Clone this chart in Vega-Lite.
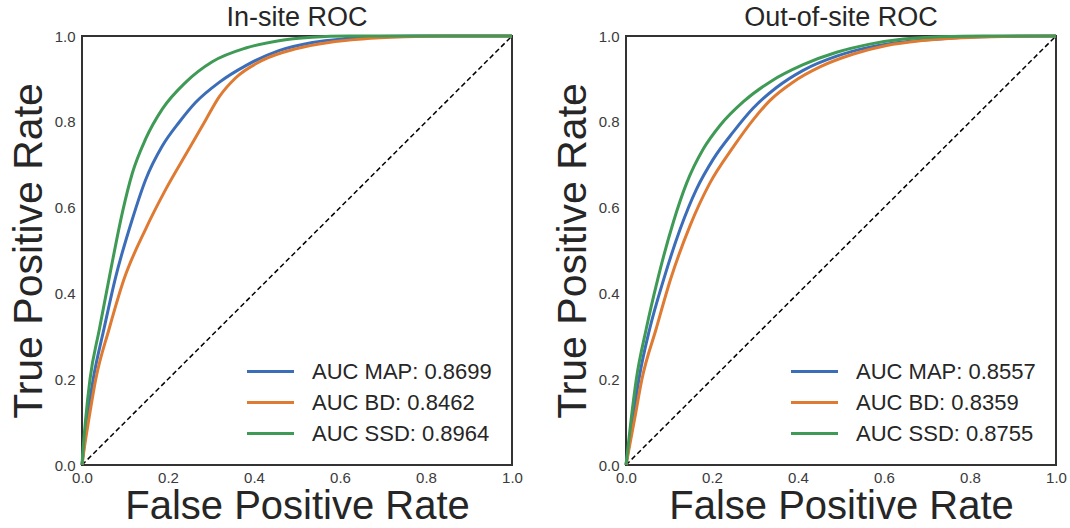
{
  "$schema": "https://vega.github.io/schema/vega-lite/v6.json",
  "background": "white",
  "padding": {"left": 7, "top": 3, "right": 0, "bottom": 0},
  "spacing": 27,
  "config": {
    "font": "Liberation Sans",
    "view": {"stroke": "#333333", "strokeWidth": 2},
    "axis": {
      "grid": false, "ticks": false, "domain": false, "labelFlush": false,
      "labelFont": "Liberation Sans", "labelFontSize": 15, "labelColor": "#3a3a3a",
      "titleFont": "Liberation Sans", "titleFontSize": 41, "titleFontWeight": "normal", "titleColor": "#262626"
    },
    "axisX": {"labelPadding": 5, "titlePadding": 1, "titleFontSize": 40},
    "axisY": {"labelPadding": 7, "titlePadding": 4},
    "title": {"font": "Liberation Sans", "fontSize": 27, "fontWeight": "normal", "color": "#262626", "offset": -3, "frame": "group"},
    "legend": {
      "orient": "bottom-right", "offset": 20, "padding": 0,
      "symbolType": "M-1.5,0L1.5,0", "symbolSize": 982, "symbolStrokeWidth": 3,
      "labelFont": "Liberation Sans", "labelFontSize": 22, "labelColor": "#262626",
      "labelOffset": 24, "rowPadding": 2, "labelLimit": 400
    }
  },
  "datasets": {
    "insite": [
      {"label": "AUC MAP: 0.8699", "fpr": 0, "tpr": 0},
      {"label": "AUC MAP: 0.8699", "fpr": 0.012, "tpr": 0.107},
      {"label": "AUC MAP: 0.8699", "fpr": 0.026, "tpr": 0.2},
      {"label": "AUC MAP: 0.8699", "fpr": 0.051, "tpr": 0.317},
      {"label": "AUC MAP: 0.8699", "fpr": 0.078, "tpr": 0.437},
      {"label": "AUC MAP: 0.8699", "fpr": 0.117, "tpr": 0.573},
      {"label": "AUC MAP: 0.8699", "fpr": 0.148, "tpr": 0.665},
      {"label": "AUC MAP: 0.8699", "fpr": 0.187, "tpr": 0.744},
      {"label": "AUC MAP: 0.8699", "fpr": 0.226, "tpr": 0.799},
      {"label": "AUC MAP: 0.8699", "fpr": 0.264, "tpr": 0.845},
      {"label": "AUC MAP: 0.8699", "fpr": 0.319, "tpr": 0.892},
      {"label": "AUC MAP: 0.8699", "fpr": 0.381, "tpr": 0.931},
      {"label": "AUC MAP: 0.8699", "fpr": 0.458, "tpr": 0.966},
      {"label": "AUC MAP: 0.8699", "fpr": 0.536, "tpr": 0.985},
      {"label": "AUC MAP: 0.8699", "fpr": 0.613, "tpr": 0.994},
      {"label": "AUC MAP: 0.8699", "fpr": 0.69, "tpr": 0.999},
      {"label": "AUC MAP: 0.8699", "fpr": 0.8, "tpr": 1.0},
      {"label": "AUC MAP: 0.8699", "fpr": 1.0, "tpr": 1.0},
      {"label": "AUC BD: 0.8462", "fpr": 0, "tpr": 0},
      {"label": "AUC BD: 0.8462", "fpr": 0.005, "tpr": 0.037},
      {"label": "AUC BD: 0.8462", "fpr": 0.016, "tpr": 0.107},
      {"label": "AUC BD: 0.8462", "fpr": 0.032, "tpr": 0.2},
      {"label": "AUC BD: 0.8462", "fpr": 0.063, "tpr": 0.317},
      {"label": "AUC BD: 0.8462", "fpr": 0.098, "tpr": 0.434},
      {"label": "AUC BD: 0.8462", "fpr": 0.148, "tpr": 0.55},
      {"label": "AUC BD: 0.8462", "fpr": 0.195, "tpr": 0.643},
      {"label": "AUC BD: 0.8462", "fpr": 0.249, "tpr": 0.737},
      {"label": "AUC BD: 0.8462", "fpr": 0.288, "tpr": 0.805},
      {"label": "AUC BD: 0.8462", "fpr": 0.319, "tpr": 0.858},
      {"label": "AUC BD: 0.8462", "fpr": 0.357, "tpr": 0.902},
      {"label": "AUC BD: 0.8462", "fpr": 0.419, "tpr": 0.943},
      {"label": "AUC BD: 0.8462", "fpr": 0.497, "tpr": 0.97},
      {"label": "AUC BD: 0.8462", "fpr": 0.574, "tpr": 0.985},
      {"label": "AUC BD: 0.8462", "fpr": 0.652, "tpr": 0.993},
      {"label": "AUC BD: 0.8462", "fpr": 0.75, "tpr": 0.998},
      {"label": "AUC BD: 0.8462", "fpr": 0.85, "tpr": 1.0},
      {"label": "AUC BD: 0.8462", "fpr": 1.0, "tpr": 1.0},
      {"label": "AUC SSD: 0.8964", "fpr": 0, "tpr": 0},
      {"label": "AUC SSD: 0.8964", "fpr": 0.002, "tpr": 0.03},
      {"label": "AUC SSD: 0.8964", "fpr": 0.0085, "tpr": 0.107},
      {"label": "AUC SSD: 0.8964", "fpr": 0.0186, "tpr": 0.2},
      {"label": "AUC SSD: 0.8964", "fpr": 0.0405, "tpr": 0.317},
      {"label": "AUC SSD: 0.8964", "fpr": 0.065, "tpr": 0.445},
      {"label": "AUC SSD: 0.8964", "fpr": 0.094, "tpr": 0.589},
      {"label": "AUC SSD: 0.8964", "fpr": 0.117, "tpr": 0.68},
      {"label": "AUC SSD: 0.8964", "fpr": 0.148, "tpr": 0.76},
      {"label": "AUC SSD: 0.8964", "fpr": 0.187, "tpr": 0.83},
      {"label": "AUC SSD: 0.8964", "fpr": 0.241, "tpr": 0.892},
      {"label": "AUC SSD: 0.8964", "fpr": 0.303, "tpr": 0.94},
      {"label": "AUC SSD: 0.8964", "fpr": 0.381, "tpr": 0.972},
      {"label": "AUC SSD: 0.8964", "fpr": 0.458, "tpr": 0.989},
      {"label": "AUC SSD: 0.8964", "fpr": 0.535, "tpr": 0.997},
      {"label": "AUC SSD: 0.8964", "fpr": 0.62, "tpr": 1.0},
      {"label": "AUC SSD: 0.8964", "fpr": 1.0, "tpr": 1.0}
    ],
    "outsite": [
      {"label": "AUC MAP: 0.8557", "fpr": 0, "tpr": 0},
      {"label": "AUC MAP: 0.8557", "fpr": 0.016, "tpr": 0.107},
      {"label": "AUC MAP: 0.8557", "fpr": 0.03, "tpr": 0.2},
      {"label": "AUC MAP: 0.8557", "fpr": 0.055, "tpr": 0.317},
      {"label": "AUC MAP: 0.8557", "fpr": 0.088, "tpr": 0.434},
      {"label": "AUC MAP: 0.8557", "fpr": 0.126, "tpr": 0.55},
      {"label": "AUC MAP: 0.8557", "fpr": 0.164, "tpr": 0.643},
      {"label": "AUC MAP: 0.8557", "fpr": 0.203, "tpr": 0.713},
      {"label": "AUC MAP: 0.8557", "fpr": 0.25, "tpr": 0.777},
      {"label": "AUC MAP: 0.8557", "fpr": 0.296, "tpr": 0.832},
      {"label": "AUC MAP: 0.8557", "fpr": 0.35, "tpr": 0.88},
      {"label": "AUC MAP: 0.8557", "fpr": 0.412, "tpr": 0.92},
      {"label": "AUC MAP: 0.8557", "fpr": 0.49, "tpr": 0.953},
      {"label": "AUC MAP: 0.8557", "fpr": 0.567, "tpr": 0.974},
      {"label": "AUC MAP: 0.8557", "fpr": 0.645, "tpr": 0.986},
      {"label": "AUC MAP: 0.8557", "fpr": 0.75, "tpr": 0.995},
      {"label": "AUC MAP: 0.8557", "fpr": 0.85, "tpr": 0.999},
      {"label": "AUC MAP: 0.8557", "fpr": 1.0, "tpr": 1.0},
      {"label": "AUC BD: 0.8359", "fpr": 0, "tpr": 0},
      {"label": "AUC BD: 0.8359", "fpr": 0.02, "tpr": 0.107},
      {"label": "AUC BD: 0.8359", "fpr": 0.037, "tpr": 0.2},
      {"label": "AUC BD: 0.8359", "fpr": 0.07, "tpr": 0.317},
      {"label": "AUC BD: 0.8359", "fpr": 0.104, "tpr": 0.434},
      {"label": "AUC BD: 0.8359", "fpr": 0.149, "tpr": 0.558},
      {"label": "AUC BD: 0.8359", "fpr": 0.195, "tpr": 0.657},
      {"label": "AUC BD: 0.8359", "fpr": 0.25, "tpr": 0.742},
      {"label": "AUC BD: 0.8359", "fpr": 0.296, "tpr": 0.805},
      {"label": "AUC BD: 0.8359", "fpr": 0.335, "tpr": 0.85},
      {"label": "AUC BD: 0.8359", "fpr": 0.389, "tpr": 0.893},
      {"label": "AUC BD: 0.8359", "fpr": 0.451, "tpr": 0.928},
      {"label": "AUC BD: 0.8359", "fpr": 0.529, "tpr": 0.958},
      {"label": "AUC BD: 0.8359", "fpr": 0.606, "tpr": 0.978},
      {"label": "AUC BD: 0.8359", "fpr": 0.684, "tpr": 0.989},
      {"label": "AUC BD: 0.8359", "fpr": 0.78, "tpr": 0.996},
      {"label": "AUC BD: 0.8359", "fpr": 0.88, "tpr": 0.999},
      {"label": "AUC BD: 0.8359", "fpr": 1.0, "tpr": 1.0},
      {"label": "AUC SSD: 0.8755", "fpr": 0, "tpr": 0},
      {"label": "AUC SSD: 0.8755", "fpr": 0.012, "tpr": 0.107},
      {"label": "AUC SSD: 0.8755", "fpr": 0.024, "tpr": 0.2},
      {"label": "AUC SSD: 0.8755", "fpr": 0.047, "tpr": 0.317},
      {"label": "AUC SSD: 0.8755", "fpr": 0.074, "tpr": 0.434},
      {"label": "AUC SSD: 0.8755", "fpr": 0.11, "tpr": 0.566},
      {"label": "AUC SSD: 0.8755", "fpr": 0.141, "tpr": 0.657},
      {"label": "AUC SSD: 0.8755", "fpr": 0.18, "tpr": 0.737},
      {"label": "AUC SSD: 0.8755", "fpr": 0.219, "tpr": 0.792},
      {"label": "AUC SSD: 0.8755", "fpr": 0.273, "tpr": 0.847},
      {"label": "AUC SSD: 0.8755", "fpr": 0.335, "tpr": 0.893},
      {"label": "AUC SSD: 0.8755", "fpr": 0.412, "tpr": 0.933},
      {"label": "AUC SSD: 0.8755", "fpr": 0.49, "tpr": 0.962},
      {"label": "AUC SSD: 0.8755", "fpr": 0.567, "tpr": 0.981},
      {"label": "AUC SSD: 0.8755", "fpr": 0.645, "tpr": 0.993},
      {"label": "AUC SSD: 0.8755", "fpr": 0.73, "tpr": 0.998},
      {"label": "AUC SSD: 0.8755", "fpr": 0.83, "tpr": 1.0},
      {"label": "AUC SSD: 0.8755", "fpr": 1.0, "tpr": 1.0}
    ],
    "diag": [
      {"fpr": 0, "tpr": 0},
      {"fpr": 1, "tpr": 1}
    ]
  },
  "resolve": {"scale": {"color": "independent"}, "legend": {"color": "independent"}},
  "hconcat": [
    {
      "width": 430,
      "height": 429,
      "title": {"text": "In-site ROC"},
      "layer": [
        {
          "data": {"name": "diag"},
          "mark": {"type": "line", "color": "black", "strokeWidth": 1.5, "strokeDash": [5, 3]},
          "encoding": {
            "x": {"field": "fpr", "type": "quantitative"},
            "y": {"field": "tpr", "type": "quantitative"}
          }
        },
        {
          "data": {"name": "insite"},
          "mark": {"type": "line", "strokeWidth": 3, "interpolate": "monotone"},
          "encoding": {
            "x": {"field": "fpr", "type": "quantitative", "scale": {"domain": [0, 1], "nice": false},
                  "axis": {"title": "False Positive Rate", "values": [0, 0.2, 0.4, 0.6, 0.8, 1], "format": ".1f"}},
            "y": {"field": "tpr", "type": "quantitative", "scale": {"domain": [0, 1], "nice": false},
                  "axis": {"title": "True Positive Rate", "values": [0, 0.2, 0.4, 0.6, 0.8, 1], "format": ".1f"}},
            "color": {"field": "label", "type": "nominal",
                      "scale": {"domain": ["AUC MAP: 0.8699", "AUC BD: 0.8462", "AUC SSD: 0.8964"], "range": ["#3C6DB8", "#DF7A33", "#3E9A55"]},
                      "legend": {"title": null}}
          }
        }
      ]
    },
    {
      "width": 430,
      "height": 429,
      "title": {"text": "Out-of-site ROC"},
      "layer": [
        {
          "data": {"name": "diag"},
          "mark": {"type": "line", "color": "black", "strokeWidth": 1.5, "strokeDash": [5, 3]},
          "encoding": {
            "x": {"field": "fpr", "type": "quantitative"},
            "y": {"field": "tpr", "type": "quantitative"}
          }
        },
        {
          "data": {"name": "outsite"},
          "mark": {"type": "line", "strokeWidth": 3, "interpolate": "monotone"},
          "encoding": {
            "x": {"field": "fpr", "type": "quantitative", "scale": {"domain": [0, 1], "nice": false},
                  "axis": {"title": "False Positive Rate", "values": [0, 0.2, 0.4, 0.6, 0.8, 1], "format": ".1f"}},
            "y": {"field": "tpr", "type": "quantitative", "scale": {"domain": [0, 1], "nice": false},
                  "axis": {"title": "True Positive Rate", "values": [0, 0.2, 0.4, 0.6, 0.8, 1], "format": ".1f"}},
            "color": {"field": "label", "type": "nominal",
                      "scale": {"domain": ["AUC MAP: 0.8557", "AUC BD: 0.8359", "AUC SSD: 0.8755"], "range": ["#3C6DB8", "#DF7A33", "#3E9A55"]},
                      "legend": {"title": null}}
          }
        }
      ]
    }
  ]
}
